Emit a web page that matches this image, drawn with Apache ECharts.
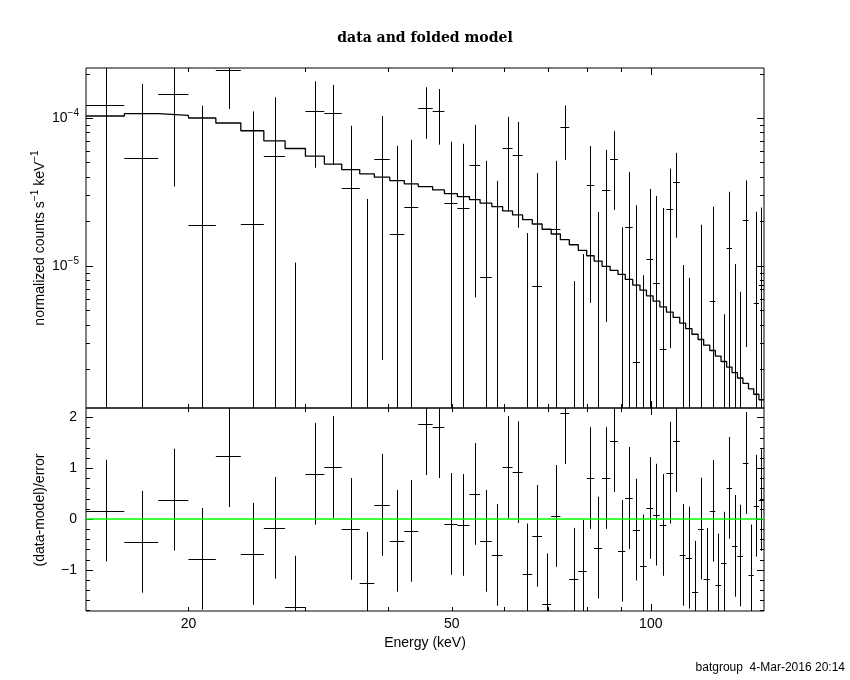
<!DOCTYPE html>
<html><head><meta charset="utf-8">
<script src="https://cdn.jsdelivr.net/npm/echarts@6/dist/echarts.min.js"></script>
<style>html,body{margin:0;padding:0;background:#fff}#c{width:850px;height:680px}</style>
</head><body><div id="c"></div>
<script>
// ---- data ----
const energyEdges = [14.0,16.0,18.0,20.0,22.0,24.0,26.0,28.0,30.05,32.1,34.1,36.3,38.2,40.3,42.4,44.5,46.8,48.75,51.0,53.2,55.2,57.5,59.7,61.8,64.0,66.2,68.5,70.7,73.0,75.3,77.7,80.0,82.1,84.4,86.8,89.2,91.5,93.9,96.3,98.5,100.8,103.2,105.6,108.1,110.6,112.9,115.4,117.9,120.2,122.8,125.2,127.7,130.2,132.7,135.2,137.8,140.5,143.1,145.7,148.3];
const modelRate = [1.032e-4,1.070e-4,1.041e-4,1.000e-4,9.25e-5,8.20e-5,7.01e-5,6.22e-5,5.52e-5,4.875e-5,
  4.48e-5,4.19e-5,3.98e-5,3.773e-5,3.583e-5,3.436e-5,3.263e-5,3.080e-5,2.938e-5,2.804e-5,
  2.651e-5,2.514e-5,2.350e-5,2.208e-5,2.051e-5,1.918e-5,1.766e-5,1.641e-5,1.501e-5,1.388e-5,
  1.272e-5,1.169e-5,1.076e-5,9.91e-6,9.31e-6,8.74e-6,8.08e-6,7.40e-6,6.84e-6,6.26e-6,
  5.76e-6,5.27e-6,4.85e-6,4.47e-6,4.09e-6,3.76e-6,3.44e-6,3.17e-6,2.90e-6,2.67e-6,
  2.45e-6,2.25e-6,2.06e-6,1.89e-6,1.74e-6,1.60e-6,1.47e-6,1.35e-6,1.24e-6];
const dataRate = [1.231e-4,5.355e-5,1.462e-4,1.888e-5,2.127e-4,1.918e-5,5.52e-5,-6.08e-5,1.1155e-4,1.081e-4,
  3.35e-5,-2.52e-5,5.27e-5,1.64e-5,2.489e-5,1.169e-4,1.1155e-4,2.651e-5,2.451e-5,4.80e-5,
  8.34e-6,-4.65e-6,6.258e-5,5.611e-5,-2.514e-5,7.25e-6,-4.11e-5,1.782e-5,8.688e-5,-2.628e-5,
  -2.199e-5,3.511e-5,-5.17e-6,3.247e-5,5.27e-5,-7.19e-6,1.822e-5,2.246e-6,-1.286e-5,1.105e-5,
  7.60e-6,2.752e-6,2.413e-5,3.680e-5,-1.037e-5,-1.072e-5,-2.373e-5,-5.4e-7,-1.952e-5,5.76e-6,
  -2.206e-5,-1.29e-5,1.312e-5,-7.54e-6,-1.093e-5,2.032e-5,-1.796e-5,5.56e-6,7.38e-6];
const dataError = [1.22e-4,1.17e-4,1.118e-4,1.023e-4,9.76e-5,9.17e-5,8.28e-5,7.13e-5,6.55e-5,5.96e-5,
  5.517e-5,5.35e-5,5.04e-5,4.846e-5,4.637e-5,4.46e-5,4.555e-5,4.253e-5,4.242e-5,4.19e-5,
  4.298e-5,4.22e-5,3.93e-5,3.80e-5,4.18e-5,3.51e-5,3.50e-5,3.35e-5,3.48e-5,3.415e-5,
  3.40e-5,2.95e-5,2.83e-5,2.83e-5,2.88e-5,2.54e-5,2.50e-5,2.344e-5,2.15e-5,2.208e-5,
  2.211e-5,2.187e-5,2.135e-5,2.132e-5,2.048e-5,1.90e-5,1.90e-5,1.95e-5,1.90e-5,1.938e-5,
  1.90e-5,1.76e-5,1.855e-5,1.78e-5,1.76e-5,1.75e-5,1.75e-5,1.769e-5,1.74e-5];
const residual = [0.163,-0.45,0.378,-0.784,1.235,-0.686,-0.176,-1.725,0.888,1.02,
  -0.196,-1.255,0.275,-0.431,-0.235,1.863,1.804,-0.098,-0.118,0.49,
  -0.431,-0.706,1.02,0.92,-1.092,-0.333,-1.68,0.059,2.078,-1.176,
  -1.02,0.804,-0.563,0.804,1.53,-0.627,0.412,-0.21,-0.916,0.216,
  0.084,-0.118,0.908,1.53,-0.706,-0.762,-1.43,-0.19,-1.18,0.16,
  -1.29,-0.86,0.61,-0.53,-0.72,1.10,-1.11,0.26,0.37];
const residualErr = 1;     // residuals are in units of sigma
const residualZero = 0;

// axis ranges and ticks
const E_MIN = 14.0, E_MAX = 148.3;
const TOP_MIN = 1.09e-6, TOP_MAX = 2.18e-4;
const RES_MIN = -1.81, RES_MAX = 2.18;
const xTickMinor = [20,30,40,50,60,70,80,90];
const xTickMajor = [100];
const xTickLabels = [20,50,100];
const yTopMajor = [1e-5,1e-4];
const yTopMinor = [2e-6,3e-6,4e-6,5e-6,6e-6,7e-6,8e-6,9e-6,2e-5,3e-5,4e-5,5e-5,6e-5,7e-5,8e-5,9e-5,2e-4];
const yTopLabelVals = [1e-4,1e-5];
const yTopLabelExps = ['−4','−5'];
const yResMajor = [-1,0,1,2];
const yResMinor = [-1.8,-1.6,-1.4,-1.2,-0.8,-0.6,-0.4,-0.2,0.2,0.4,0.6,0.8,1.2,1.4,1.6,1.8];
const yResLabelVals = [2,1,0,-1];
const yResLabelTexts = ['2','1','0','−1'];

// ---- build ----
const FONT = '"Liberation Sans", Arial, sans-serif';
const px = v => Math.round(v) + 0.5;
const seg = (x1,y1,x2,y2,color,w) => ({type:'line', shape:{x1,y1,x2,y2}, style:{stroke:color||'#000', lineWidth:w||1}});

const topRows = energyEdges.slice(0,-1).map((lo,i)=>[lo, modelRate[i], energyEdges[i+1], dataRate[i], dataError[i]]);
const resRows = energyEdges.slice(0,-1).map((lo,i)=>[lo, residual[i], energyEdges[i+1]]);
const modelLine = energyEdges.map((e,i)=>[e, modelRate[Math.min(i, modelRate.length-1)]]);
const zeroLine = [[E_MIN, residualZero],[E_MAX, residualZero]];

function topErr(params, api){
  const cs = params.coordSys, T = cs.y, B = cs.y + cs.height;
  const lo = api.value(0), m = api.value(1), hi = api.value(2), d = api.value(3), e = api.value(4);
  const mid = (lo+hi)/2;
  const xl = api.coord([lo,m])[0], xh = api.coord([hi,m])[0], xm = px(api.coord([mid,m])[0]);
  const yOf = v => v <= TOP_MIN ? B : (v >= TOP_MAX ? T : api.coord([mid,v])[1]);
  const ch = [];
  const yt = yOf(d+e), yb = yOf(d-e);
  if (yb > yt) ch.push(seg(xm, yt, xm, yb));
  if (d > TOP_MIN && d < TOP_MAX) { const yc = px(api.coord([mid,d])[1]); ch.push(seg(xl, yc, xh, yc)); }
  return {type:'group', children: ch};
}
function resErr(params, api){
  const cs = params.coordSys, T = cs.y, B = cs.y + cs.height;
  const lo = api.value(0), r = api.value(1), hi = api.value(2);
  const mid = (lo+hi)/2;
  const xl = api.coord([lo,r])[0], xh = api.coord([hi,r])[0], xm = px(api.coord([mid,r])[0]);
  const yOf = v => v <= RES_MIN ? B : (v >= RES_MAX ? T : api.coord([mid,v])[1]);
  const ch = [seg(xm, yOf(r+residualErr), xm, yOf(r-residualErr))];
  if (r > RES_MIN && r < RES_MAX) { const yc = px(api.coord([mid,r])[1]); ch.push(seg(xl, yc, xh, yc)); }
  return {type:'group', children: ch};
}
function ticks(isTop){
  return function(params, api){
    const cs = params.coordSys, L = cs.x, R = cs.x + cs.width, T = cs.y, B = cs.y + cs.height;
    const yRef = isTop ? 1e-5 : 0;
    const ch = [];
    const xt = (v, len) => { const x = px(api.coord([v, yRef])[0]); ch.push(seg(x, T, x, T+len)); ch.push(seg(x, B, x, B-len)); };
    const yt = (v, len) => { const y = px(api.coord([20, v])[1]); ch.push(seg(L, y, L+len, y)); ch.push(seg(R, y, R-len, y)); };
    xTickMinor.forEach(v => xt(v, 4));
    xTickMajor.forEach(v => xt(v, 7));
    if (isTop) {
      yTopMinor.forEach(v => yt(v, 4));
      yTopMajor.forEach(v => yt(v, 7));
      yTopLabelVals.forEach((v,i) => {
        const y = api.coord([20, v])[1];
        ch.push({type:'text', x: L-7, y: y, style:{text:'10{s|' + yTopLabelExps[i] + '}', fill:'#000',
          align:'right', verticalAlign:'middle', fontFamily: FONT, fontSize: 14,
          rich:{s:{fontSize:10, fontFamily: FONT, verticalAlign:'top', lineHeight:20}}}});
      });
    } else {
      yResMinor.forEach(v => yt(v, 4));
      yResMajor.forEach(v => yt(v, 7));
      yResLabelVals.forEach((v,i) => {
        const y = api.coord([20, v])[1];
        ch.push({type:'text', x: L-9, y: y, style:{text: yResLabelTexts[i], fill:'#000', align:'right',
          verticalAlign:'middle', fontFamily: FONT, fontSize: 14}});
      });
      xTickLabels.forEach(v => {
        const x = api.coord([v, 0])[0];
        ch.push({type:'text', x: x, y: B+13, style:{text: String(v), fill:'#000', align:'center',
          verticalAlign:'middle', fontFamily: FONT, fontSize: 14}});
      });
    }
    return {type:'group', children: ch};
  };
}

const chart = echarts.init(document.getElementById('c'));
chart.setOption({
  animation: false,
  backgroundColor: '#fff',
  grid: [
    {left: 86, top: 68, width: 678, height: 340, show: true, borderColor: '#000', borderWidth: 1, backgroundColor: 'transparent'},
    {left: 86, top: 408, width: 678, height: 203, show: true, borderColor: '#000', borderWidth: 1, backgroundColor: 'transparent'}
  ],
  xAxis: [
    {gridIndex: 0, type: 'log', logBase: 10, min: E_MIN, max: E_MAX, show: false},
    {gridIndex: 1, type: 'log', logBase: 10, min: E_MIN, max: E_MAX, show: false}
  ],
  yAxis: [
    {gridIndex: 0, type: 'log', logBase: 10, min: TOP_MIN, max: TOP_MAX, show: false},
    {gridIndex: 1, type: 'value', min: RES_MIN, max: RES_MAX, show: false}
  ],
  graphic: [
    {type:'text', x: 425, y: 38, style:{text:'data and folded model', fill:'#000', align:'center', verticalAlign:'middle',
      fontFamily:'"DejaVu Serif", serif', fontSize: 14, fontWeight: 'bold'}},
    {type:'text', x: 40, y: 238, rotation: Math.PI/2, style:{text:'normalized counts s{s|−1} keV{s|−1}', fill:'#000',
      align:'center', verticalAlign:'middle', fontFamily: FONT, fontSize: 14,
      rich:{s:{fontSize:10, fontFamily: FONT, verticalAlign:'top', lineHeight:20}}}},
    {type:'text', x: 40, y: 510, rotation: Math.PI/2, style:{text:'(data-model)/error', fill:'#000',
      align:'center', verticalAlign:'middle', fontFamily: FONT, fontSize: 14}},
    {type:'text', x: 425, y: 643, style:{text:'Energy (keV)', fill:'#000', align:'center', verticalAlign:'middle',
      fontFamily: FONT, fontSize: 14}},
    {type:'text', x: 845, y: 668, style:{text:'batgroup  4-Mar-2016 20:14', fill:'#000', align:'right', verticalAlign:'middle',
      fontFamily: FONT, fontSize: 12}}
  ],
  series: [
    {type:'line', xAxisIndex:0, yAxisIndex:0, step:'end', symbol:'none', data: modelLine,
      lineStyle:{color:'#000', width:1.3}, silent:true, z:3},
    {type:'custom', xAxisIndex:0, yAxisIndex:0, data: topRows, encode:{x:[0,2], y:1}, renderItem: topErr, silent:true, z:4},
    {type:'custom', xAxisIndex:1, yAxisIndex:1, data: resRows, encode:{x:[0,2], y:1}, renderItem: resErr, silent:true, z:4},
    {type:'line', xAxisIndex:1, yAxisIndex:1, symbol:'none', data: zeroLine,
      lineStyle:{color:'#00ff00', width:1.5}, itemStyle:{color:'#00ff00'}, silent:true, z:7},
    {type:'custom', xAxisIndex:0, yAxisIndex:0, data: [[20, 1e-5]], renderItem: ticks(true), silent:true, z:5, clip:false},
    {type:'custom', xAxisIndex:1, yAxisIndex:1, data: [[20, 0]], renderItem: ticks(false), silent:true, z:6, clip:false}
  ]
});
</script>
</body></html>
